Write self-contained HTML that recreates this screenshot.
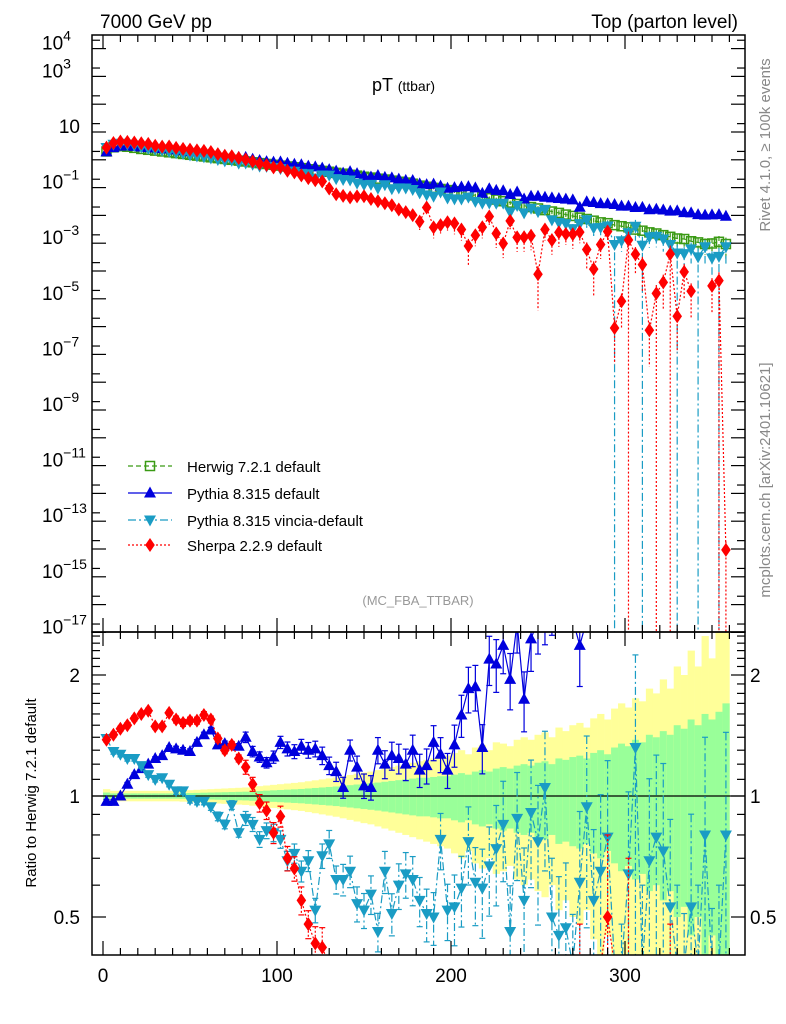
<!DOCTYPE html>
<html><head><meta charset="utf-8">
<style>
html,body{margin:0;padding:0;background:#fff;width:786px;height:1024px;overflow:hidden;}
svg{display:block;font-family:"Liberation Sans",Arial,sans-serif;}
</style></head>
<body>
<svg id="chart" xmlns="http://www.w3.org/2000/svg" width="786" height="1024" viewBox="0 0 786 1024" overflow="hidden">
<defs>
<clipPath id="clipMain"><rect x="92" y="35" width="653" height="597"/></clipPath>
<clipPath id="clipRatio"><rect x="92" y="632" width="653" height="323"/></clipPath>
</defs>
<text x="100" y="28" font-size="19">7000 GeV pp</text>
<text x="738" y="28" font-size="19" text-anchor="end">Top (parton level)</text>
<text x="372" y="91" font-size="18">pT <tspan font-size="14">(ttbar)</tspan></text>
<text x="418" y="605" font-size="13" fill="#999" text-anchor="middle">(MC_FBA_TTBAR)</text>
<text transform="translate(770,145) rotate(-90)" font-size="15" fill="#888" text-anchor="middle">Rivet 4.1.0, ≥ 100k events</text>
<text transform="translate(770,480) rotate(-90)" font-size="15" fill="#888" text-anchor="middle">mcplots.cern.ch [arXiv:2401.10621]</text>
<text transform="translate(36,793) rotate(-90)" font-size="15" text-anchor="middle">Ratio to Herwig 7.2.1 default</text>
<g id="bands" clip-path="url(#clipRatio)"></g>
<line x1="92" y1="796" x2="745" y2="796" stroke="#000" stroke-width="1.2"/>
<g id="mainSeries" clip-path="url(#clipMain)"></g>
<g id="ratioSeries" clip-path="url(#clipRatio)"></g>
<g id="axes"></g>
<rect x="92" y="35" width="653" height="597" fill="none" stroke="#000" stroke-width="1.5"/>
<rect x="92" y="632" width="653" height="323" fill="none" stroke="#000" stroke-width="1.5"/>
<g id="legend"></g>
</svg>
<script>
const centers = [2,6,10,14,18,22,26,30,34,38,42,46,50,54,58,62,66,70,74,78,82,86,90,94,98,102,106,110,114,118,122,126,130,134,138,142,146,150,154,158,162,166,170,174,178,182,186,190,194,198,202,206,210,214,218,222,226,230,234,238,242,246,250,254,258,262,266,270,274,278,282,286,290,294,298,302,306,310,314,318,322,326,330,334,338,342,346,350,354,358];
const herwigLog = [0.30,0.45,0.49,0.47,0.43,0.39,0.36,0.33,0.30,0.27,
0.24,0.21,0.18,0.15,0.12,0.09,0.06,0.03,0.00,-0.03,
-0.06,-0.09,-0.12,-0.15,-0.18,-0.21,-0.24,-0.27,-0.30,-0.34,
-0.37,-0.40,-0.43,-0.47,-0.50,-0.54,-0.57,-0.61,-0.64,-0.68,
-0.71,-0.75,-0.79,-0.82,-0.86,-0.93,-0.97,-1.01,-1.05,-1.09,
-1.13,-1.18,-1.23,-1.28,-1.33,-1.38,-1.43,-1.49,-1.54,-1.59,
-1.65,-1.70,-1.75,-1.81,-1.86,-1.91,-1.97,-2.02,-2.08,-2.13,
-2.19,-2.25,-2.28,-2.35,-2.39,-2.43,-2.51,-2.55,-2.61,-2.65,
-2.71,-2.77,-2.83,-2.85,-2.93,-2.97,-3.03,-3.01,-2.95,-3.03];
const herwigErrInner = [0.02,0.015,0.015,0.015,0.015,0.015,0.015,0.015,0.015,0.015,
0.015,0.016,0.017,0.018,0.019,0.02,0.021,0.022,0.023,0.024,
0.025,0.027,0.029,0.031,0.033,0.035,0.037,0.039,0.041,0.044,
0.047,0.05,0.053,0.056,0.06,0.064,0.068,0.072,0.076,0.08,
0.085,0.09,0.095,0.1,0.105,0.11,0.11,0.115,0.12,0.12,
0.13,0.14,0.13,0.15,0.16,0.15,0.17,0.18,0.17,0.19,
0.2,0.19,0.21,0.22,0.2,0.24,0.23,0.25,0.26,0.24,
0.28,0.3,0.27,0.32,0.35,0.33,0.38,0.36,0.42,0.4,
0.45,0.42,0.5,0.47,0.55,0.5,0.6,0.55,0.62,0.7];
const herwigErrOuter = [0.04,0.03,0.03,0.03,0.03,0.03,0.03,0.03,0.03,0.03,
0.03,0.032,0.034,0.036,0.038,0.04,0.042,0.044,0.046,0.048,
0.05,0.054,0.058,0.062,0.066,0.07,0.074,0.078,0.082,0.088,
0.094,0.1,0.106,0.112,0.12,0.128,0.136,0.144,0.15,0.16,
0.17,0.18,0.19,0.2,0.21,0.22,0.23,0.24,0.25,0.26,
0.28,0.3,0.27,0.32,0.34,0.3,0.36,0.35,0.33,0.38,
0.4,0.38,0.42,0.44,0.4,0.48,0.45,0.5,0.52,0.48,
0.56,0.6,0.55,0.65,0.7,0.66,0.75,0.72,0.85,0.8,
0.95,0.85,1.1,1.0,1.3,1.1,1.5,1.2,1.6,1.8];
const pythiaRatio = [0.97,0.97,1.0,1.07,1.13,1.17,1.2,1.24,1.26,1.32,
1.31,1.3,1.29,1.36,1.42,1.46,1.34,1.35,1.34,1.33,
1.4,1.29,1.25,1.21,1.25,1.36,1.31,1.29,1.33,1.3,
1.31,1.26,1.19,1.15,1.05,1.3,1.18,1.06,1.05,1.3,
1.2,1.26,1.24,1.2,1.3,1.16,1.19,1.36,1.27,1.16,
1.34,1.59,1.85,1.87,1.32,2.19,2.13,2.37,1.95,2.7,
1.74,2.46,2.75,2.9,3.1,3.3,3.6,3.8,2.37,4.2,
4.5,4.7,5.0,5.5,5.3,5.8,6.2,6.9,6.5,7.4,
8.0,8.4,9.8,8.9,10.5,10,11,10.7,9.5,10];
const pythiaErr = [0.01,0.01,0.01,0.01,0.01,0.01,0.01,0.01,0.01,0.01,
0.015,0.015,0.015,0.015,0.015,0.015,0.015,0.015,0.015,0.015,
0.03,0.03,0.03,0.03,0.035,0.035,0.04,0.04,0.04,0.045,
0.045,0.05,0.05,0.055,0.06,0.06,0.065,0.07,0.07,0.075,
0.08,0.08,0.085,0.09,0.09,0.095,0.1,0.1,0.1,0.1,
0.12,0.12,0.13,0.13,0.14,0.14,0.15,0.15,0.16,0.16,
0.17,0.17,0.18,0.18,0.19,0.19,0.2,0.2,0.21,0.21,
0.22,0.22,0.23,0.23,0.24,0.24,0.25,0.25,0.26,0.26,
0.27,0.27,0.28,0.28,0.29,0.29,0.3,0.3,0.3,0.3];
const vinciaRatio = [1.39,1.29,1.27,1.24,1.24,1.19,1.13,1.10,1.11,1.07,
1.03,1.03,0.98,0.97,0.97,0.94,0.89,0.85,0.95,0.81,
0.88,0.85,0.78,0.82,0.81,0.78,0.69,0.72,0.65,0.69,
0.52,0.71,0.76,0.62,0.62,0.65,0.54,0.52,0.57,0.46,
0.65,0.51,0.6,0.64,0.62,0.55,0.51,0.5,0.78,0.52,
0.53,0.59,0.77,0.61,0.59,0.67,0.74,0.85,0.46,0.88,
0.55,0.91,0.77,1.05,0.5,0.45,0.47,0.35,0.61,0.94,
0.55,0.65,0.79,0.2,0.3,0.64,1.32,0.3,0.69,0.79,
0.73,0.53,0.3,0.3,0.53,0.3,0.8,0.3,0.3,0.8];
const vinciaErr = [0.015,0.015,0.015,0.015,0.015,0.015,0.015,0.015,0.015,0.015,
0.02,0.02,0.02,0.02,0.02,0.02,0.025,0.025,0.025,0.025,
0.04,0.04,0.045,0.045,0.05,0.05,0.055,0.055,0.06,0.06,
0.07,0.07,0.08,0.08,0.09,0.09,0.1,0.1,0.11,0.11,
0.12,0.12,0.13,0.13,0.14,0.14,0.15,0.15,0.16,0.16,
0.2,0.2,0.22,0.22,0.25,0.25,0.28,0.28,0.3,0.3,
0.35,0.35,0.38,0.38,0.4,0.4,0.45,0.45,0.5,0.5,
0.5,0.55,0.55,1.0,0.6,0.6,0.7,1.0,0.6,0.6,
0.65,0.65,1.0,0.7,0.7,1.0,0.75,0.75,1.0,0.8];
const sherpaRatio = [1.38,1.42,1.47,1.5,1.56,1.6,1.63,1.49,1.49,1.61,
1.55,1.52,1.54,1.54,1.59,1.55,1.39,1.3,1.34,1.24,
1.18,1.07,0.96,0.92,0.81,0.89,0.7,0.66,0.55,0.48,
0.43,0.42,0.25,0.17,0.16,0.155,0.18,0.2,0.17,0.155,
0.14,0.13,0.1,0.087,0.074,0.051,0.18,0.038,0.05,0.07,
0.07,0.047,0.0135,0.037,0.08,0.22,0.06,0.03,0.22,0.063,
0.073,0.093,0.0043,0.2,0.093,0.2,0.2,0.22,0.3,0.08,
0.018,0.16,0.5,0.0002,0.002,0.35,0.13,0.06,0.0003,0.007,
0.02,0.24,0.0016,0.066,0.016,null,null,0.03,0.04,1e-11];
const sherpaErr = [0.015,0.015,0.015,0.015,0.015,0.015,0.015,0.015,0.015,0.015,
0.02,0.02,0.02,0.02,0.02,0.02,0.02,0.02,0.02,0.02,
0.04,0.04,0.05,0.05,0.06,0.06,0.07,0.07,0.08,0.08,
0.1,0.12,0.15,0.15,0.2,0.2,0.25,0.25,0.3,0.3,
0.35,0.35,0.4,0.4,0.45,0.5,0.4,0.6,0.5,0.5,
0.6,0.6,0.8,0.6,0.6,0.5,0.7,0.7,0.5,0.7,
0.7,0.7,0.95,0.6,0.7,0.7,0.6,0.7,0.6,0.8,
0.9,0.7,0.6,0.95,0.9,1.0,0.8,0.9,0.95,1.0,
0.9,1.0,0.95,0.9,0.9,0.9,0.9,0.9,1.0,1.0];
const mainTickExps = [4,3,2,1,0,-1,-2,-3,-4,-5,-6,-7,-8,-9,-10,-11,-12,-13,-14,-15,-16,-17];
const mainLabelExps = [4,3,1,-1,-3,-5,-7,-9,-11,-13,-15,-17];
const ratioTicks = [0.4,0.5,0.6,0.7,0.8,0.9,1,1.1,1.2,1.3,1.4,1.5,1.6,1.7,1.8,1.9,2,2.1,2.2,2.3,2.4,2.5];
const ratioLabels = [0.5,1,2];
const xLabels = [0,100,200,300];

const NS = 'http://www.w3.org/2000/svg';
const xs = v => 103 + v * 1.74;
const yMain = lg => 159.8 - 27.8 * lg;
const yR = r => 796 - 121 * Math.log2(r);
const MAIN_BOTTOM = 632;
function mk(tag, attrs, parent) {
  const el = document.createElementNS(NS, tag);
  for (const k in attrs) el.setAttribute(k, attrs[k]);
  parent.appendChild(el);
  return el;
}
function marker(kind, x, y, color, parent) {
  let el;
  if (kind === 'square') el = mk('rect', {x: x-4.5, y: y-4.5, width: 9, height: 9, fill: 'none', stroke: color, 'stroke-width': 1.5}, parent);
  else if (kind === 'up') el = mk('polygon', {points: `${x},${y-6.5} ${x-6},${y+4.5} ${x+6},${y+4.5}`, fill: color}, parent);
  else if (kind === 'down') el = mk('polygon', {points: `${x-6},${y-4.5} ${x+6},${y-4.5} ${x},${y+6.5}`, fill: color}, parent);
  else el = mk('polygon', {points: `${x},${y-7} ${x+4.8},${y} ${x},${y+7} ${x-4.8},${y}`, fill: color}, parent);
  return el;
}
const series = [
  {key: 'herwig', label: 'Herwig 7.2.1 default', color: '#3a9a14', dash: '5,3', kind: 'square', ratio: null, err: herwigErrInner},
  {key: 'pythia', label: 'Pythia 8.315 default', color: '#0000dd', dash: '', kind: 'up', ratio: pythiaRatio, err: pythiaErr},
  {key: 'vincia', label: 'Pythia 8.315 vincia-default', color: '#1a9cc4', dash: '8,3,2,3', kind: 'down', ratio: vinciaRatio, err: vinciaErr},
  {key: 'sherpa', label: 'Sherpa 2.2.9 default', color: '#ff0000', dash: '2,2', kind: 'diamond', ratio: sherpaRatio, err: sherpaErr}
];

const bandG = document.getElementById('bands');
centers.forEach((c, i) => {
  const x0 = xs(c - 2), w = xs(c + 2) - x0;
  const eo = herwigErrOuter[i], ei = herwigErrInner[i];
  const yTopO = yR(1 + eo), yBotO = (1 - eo) > 0.01 ? yR(1 - eo) : 960;
  const b1 = mk('rect', {x: x0, y: yTopO, width: w + 0.3, height: yBotO - yTopO, fill: '#ffff99'}, bandG);
  
  
  const yTopI = yR(1 + ei), yBotI = (1 - ei) > 0.01 ? yR(1 - ei) : 960;
  const b2 = mk('rect', {x: x0, y: yTopI, width: w + 0.3, height: yBotI - yTopI, fill: '#99ff99'}, bandG);
  
  
});

const mainG = document.getElementById('mainSeries');
const ratioG = document.getElementById('ratioSeries');
function mainLog(s, i) {
  if (!s.ratio) return herwigLog[i];
  const r = s.ratio[i];
  if (r === null) return null;
  return herwigLog[i] + Math.log10(r);
}
series.forEach(s => {
  let d = '', pen = false;
  centers.forEach((c, i) => {
    const lg = mainLog(s, i);
    if (lg === null) { pen = false; return; }
    d += (pen ? 'L' : 'M') + xs(c).toFixed(1) + ',' + yMain(lg).toFixed(1);
    pen = true;
  });
  const ln = mk('path', {d: d, fill: 'none', stroke: s.color, 'stroke-width': 1.2, 'stroke-dasharray': s.dash}, mainG);
  
  
  centers.forEach((c, i) => {
    const lg = mainLog(s, i);
    if (lg === null) return;
    const e = s.err[i];
    const yTop = yMain(lg + Math.log10(1 + e));
    const yBot = e >= 1 ? MAIN_BOTTOM : Math.min(yMain(lg + Math.log10(1 - e)), MAIN_BOTTOM);
    const eb = mk('line', {x1: xs(c), x2: xs(c), y1: yTop, y2: yBot, stroke: s.color, 'stroke-width': 1.2, 'stroke-dasharray': s.dash}, mainG);
    
    
    const m = marker(s.kind, xs(c), yMain(lg), s.color, mainG);
    
    
  });
  if (!s.ratio) return;
  let dr = '', penr = false;
  centers.forEach((c, i) => {
    const r = s.ratio[i];
    if (r === null) { penr = false; return; }
    const y = Math.min(Math.max(yR(r), 620), 965);
    dr += (penr ? 'L' : 'M') + xs(c).toFixed(1) + ',' + y.toFixed(1);
    penr = true;
  });
  const lr = mk('path', {d: dr, fill: 'none', stroke: s.color, 'stroke-width': 1.2, 'stroke-dasharray': s.dash}, ratioG);
  
  
  centers.forEach((c, i) => {
    const r = s.ratio[i];
    if (r === null) return;
    const e = s.err[i];
    const x = xs(c);
    const yTop = Math.max(yR(r * (1 + e)), 620);
    const yBot = r * (1 - e) > 0.05 ? Math.min(yR(r * (1 - e)), 965) : 965;
    const eb = mk('line', {x1: x, x2: x, y1: yTop, y2: yBot, stroke: s.color, 'stroke-width': 1.2, 'stroke-dasharray': s.dash}, ratioG);
    
    
    const cap1 = mk('line', {x1: x - 3, x2: x + 3, y1: yTop, y2: yTop, stroke: s.color, 'stroke-width': 1.2}, ratioG);
    
    
    const cap2 = mk('line', {x1: x - 3, x2: x + 3, y1: yBot, y2: yBot, stroke: s.color, 'stroke-width': 1.2}, ratioG);
    
    
    const m = marker(s.kind, x, yR(r), s.color, ratioG);
    
    
  });
});

const ax = document.getElementById('axes');
mainTickExps.forEach(k => {
  const y = yMain(k);
  const t1 = mk('line', {x1: 92, x2: 106, y1: y, y2: y, stroke: '#000', 'stroke-width': 1.2}, ax);
  
  
  const t2 = mk('line', {x1: 731, x2: 745, y1: y, y2: y, stroke: '#000', 'stroke-width': 1.2}, ax);
  
  
  const ym = yMain(k + 0.301);
  if (ym > 36) {
    const t3 = mk('line', {x1: 92, x2: 100, y1: ym, y2: ym, stroke: '#000', 'stroke-width': 1.2}, ax);
    
    
    const t4 = mk('line', {x1: 737, x2: 745, y1: ym, y2: ym, stroke: '#000', 'stroke-width': 1.2}, ax);
    
    
  }
});
mainLabelExps.forEach(k => {
  const y = yMain(k);
  const t = mk('text', {x: k === 1 ? 80 : 64, y: y + 1, 'font-size': 19, 'text-anchor': k === 1 ? 'end' : 'start'}, ax);
  
  
  if (k === 1) { t.textContent = '10'; }
  else {
    t.setAttribute('x', 42);
    t.textContent = '10';
    const sp = mk('tspan', {dy: -9, 'font-size': 14}, t);
    sp.textContent = String(k).replace('-', '\u2212');
  }
});
ratioTicks.forEach(r => {
  const y = yR(r);
  if (y < 633 || y > 954) return;
  const major = ratioLabels.indexOf(r) >= 0;
  const L = major ? 14 : 8;
  const t1 = mk('line', {x1: 92, x2: 92 + L, y1: y, y2: y, stroke: '#000', 'stroke-width': 1.2}, ax);
  
  
  const t2 = mk('line', {x1: 745 - L, x2: 745, y1: y, y2: y, stroke: '#000', 'stroke-width': 1.2}, ax);
  
  
});
ratioLabels.forEach(r => {
  const y = yR(r);
  const t = mk('text', {x: 80, y: y + 7, 'font-size': 19, 'text-anchor': 'end'}, ax);
  
  
  t.textContent = String(r);
  const t2 = mk('text', {x: 750, y: y + 7, 'font-size': 19}, ax);
  
  
  t2.textContent = String(r);
});
for (let v = 0; v <= 360; v += 10) {
  const x = xs(v);
  const major = v % 100 === 0;
  const L = major ? 14 : 7;
  [[35, 1], [632, 1], [632, -1], [955, -1]].forEach(([y0, dir]) => {
    const t = mk('line', {x1: x, x2: x, y1: y0, y2: y0 + dir * L, stroke: '#000', 'stroke-width': 1.2}, ax);
    
    
  });
}
xLabels.forEach(v => {
  const t = mk('text', {x: xs(v), y: 982, 'font-size': 19, 'text-anchor': 'middle'}, ax);
  
  
  t.textContent = String(v);
});

const lg = document.getElementById('legend');
const legendY = [466, 493, 520, 545];
series.forEach((s, i) => {
  const y = legendY[i];
  const l = mk('line', {x1: 128, x2: 172, y1: y, y2: y, stroke: s.color, 'stroke-width': 1.2, 'stroke-dasharray': s.dash}, lg);
  
  
  const m = marker(s.kind, 150, y, s.color, lg);
  
  
  const t = mk('text', {x: 187, y: y + 6, 'font-size': 15}, lg);
  
  
  t.textContent = s.label;
});
</script>
</body></html>
